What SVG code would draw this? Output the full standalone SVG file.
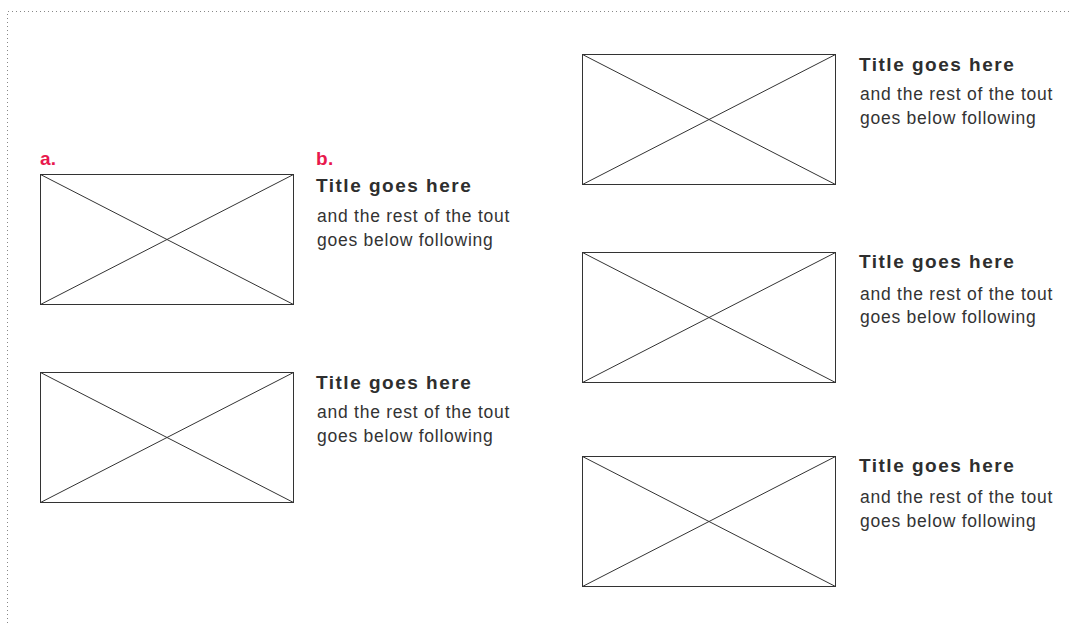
<svg xmlns="http://www.w3.org/2000/svg" width="1072" height="623" viewBox="0 0 1072 623">
<style>
.frame{fill:#fff;stroke:#333;stroke-width:1}
.x{stroke:#333;stroke-width:1;fill:none}
.title{font-family:"Liberation Sans",Arial,sans-serif;font-weight:bold;font-size:19px;letter-spacing:1.5px;fill:#2e2e2e}
.body{font-family:"Liberation Sans",Arial,sans-serif;font-size:17.5px;letter-spacing:0.75px;fill:#333}
.lbl{font-family:"Liberation Sans",Arial,sans-serif;font-weight:bold;font-size:19px;letter-spacing:0.3px;fill:#e8184d}
</style>
<rect width="1072" height="623" fill="#fff"/>
<path d="M7.5 623 V11.5 H1072" fill="none" stroke="#888" stroke-width="1" stroke-dasharray="1 3"/>
<g id="labels">
<text class="lbl" x="40" y="165">a.</text>
<text class="lbl" x="316" y="165">b.</text>
</g>
<g id="tout-a">
<rect class="frame" x="40.5" y="174.5" width="253" height="130"/>
<path class="x" d="M40.5 174.5 L293.5 304.5 M293.5 174.5 L40.5 304.5"/>
</g>
<g id="tout-b">
<text class="title" x="316" y="192">Title goes here</text>
<text class="body" x="317" y="222">and the rest of the tout</text>
<text class="body" x="317" y="246">goes below following</text>
</g>
<g id="tout-left-2">
<rect class="frame" x="40.5" y="372.5" width="253" height="130"/>
<path class="x" d="M40.5 372.5 L293.5 502.5 M293.5 372.5 L40.5 502.5"/>
<text class="title" x="316" y="389">Title goes here</text>
<text class="body" x="317" y="418">and the rest of the tout</text>
<text class="body" x="317" y="442">goes below following</text>
</g>
<g id="tout-right-1">
<rect class="frame" x="582.5" y="54.5" width="253" height="130"/>
<path class="x" d="M582.5 54.5 L835.5 184.5 M835.5 54.5 L582.5 184.5"/>
<text class="title" x="859" y="71">Title goes here</text>
<text class="body" x="860" y="100">and the rest of the tout</text>
<text class="body" x="860" y="124">goes below following</text>
</g>
<g id="tout-right-2">
<rect class="frame" x="582.5" y="252.5" width="253" height="130"/>
<path class="x" d="M582.5 252.5 L835.5 382.5 M835.5 252.5 L582.5 382.5"/>
<text class="title" x="859" y="268">Title goes here</text>
<text class="body" x="860" y="300">and the rest of the tout</text>
<text class="body" x="860" y="323">goes below following</text>
</g>
<g id="tout-right-3">
<rect class="frame" x="582.5" y="456.5" width="253" height="130"/>
<path class="x" d="M582.5 456.5 L835.5 586.5 M835.5 456.5 L582.5 586.5"/>
<text class="title" x="859" y="472">Title goes here</text>
<text class="body" x="860" y="503">and the rest of the tout</text>
<text class="body" x="860" y="527">goes below following</text>
</g>
<g id="connectors"></g>
</svg>
